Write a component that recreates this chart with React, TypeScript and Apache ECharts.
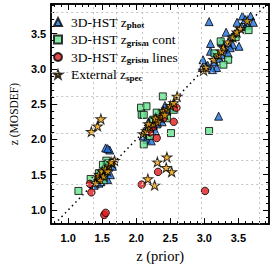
import React, { useEffect, useRef } from "react";
import * as echarts from "echarts";

// ---- data (z_prior, z_MOSDEF) ----
const zPhot: [number, number][] = [
  [1.40, 1.42], [1.45, 1.38], [1.50, 1.47], [1.58, 1.43], [1.62, 1.50], [1.43, 1.48],
  [1.55, 1.56], [1.38, 1.35], [1.55, 1.88], [1.61, 1.85], [1.58, 1.87], [1.48, 1.40], [1.65, 1.62],
  [2.10, 2.05], [2.15, 2.00], [2.20, 2.15], [2.25, 2.20], [2.30, 2.22], [2.35, 2.30], [2.40, 2.38],
  [2.45, 2.40], [2.50, 2.45], [2.18, 2.25], [2.28, 2.12], [2.38, 2.25], [2.12, 2.12], [2.55, 2.50],
  [2.22, 1.98], [2.42, 2.48], [2.32, 2.35],
  [3.21, 2.33], [3.07, 3.67],
  [2.98, 3.13], [3.09, 3.25], [3.09, 3.36], [3.25, 3.39], [3.32, 3.52], [3.48, 3.66], [3.56, 3.75],
  [3.68, 3.75], [3.72, 3.66], [3.18, 3.02], [3.42, 3.34], [3.51, 3.32], [3.05, 3.05], [3.15, 3.10],
  [3.22, 3.15], [3.30, 3.28], [3.38, 3.30], [3.45, 3.50], [3.55, 3.60], [3.60, 3.70], [3.40, 3.45],
  [3.12, 2.99], [3.35, 3.22], [2.97, 3.02], [3.62, 3.62], [3.26, 3.20],
];
const zGrismCont: [number, number][] = [
  [1.15, 1.27], [1.33, 1.44], [1.52, 1.42], [1.56, 1.70], [1.51, 1.64], [1.58, 1.66], [1.45, 1.52],
  [2.07, 2.45], [2.08, 2.35], [2.15, 2.47], [2.11, 2.35], [2.39, 2.61], [2.51, 2.09], [2.11, 1.93],
  [2.20, 2.05], [2.30, 2.38], [2.45, 2.30], [2.55, 2.42], [2.25, 2.28],
  [3.07, 2.12],
  [3.65, 3.55], [3.24, 3.39], [3.35, 3.13], [3.28, 3.06], [3.46, 3.45], [3.15, 3.22],
];
const zGrismLines: [number, number][] = [
  [1.53, 0.93], [1.55, 0.96], [1.34, 1.25], [1.32, 1.37], [1.45, 1.45],
  [2.30, 2.02], [2.32, 1.54], [2.08, 1.36], [3.01, 1.27], [2.59, 2.45], [2.55, 2.25],
  [2.25, 2.18], [2.40, 2.30], [2.20, 2.10],
];
const zSpec: [number, number][] = [
  [1.42, 1.45], [1.45, 1.50], [1.50, 1.55], [1.55, 1.58], [1.60, 1.62], [1.65, 1.66], [1.68, 1.70],
  [1.52, 1.48], [1.47, 1.42], [1.40, 1.38], [1.58, 1.55], [1.63, 1.68],
  [1.34, 2.11], [1.43, 2.19], [1.48, 2.29],
  [2.10, 2.08], [2.15, 2.12], [2.20, 2.18], [2.25, 2.22], [2.30, 2.28], [2.35, 2.33], [2.40, 2.40],
  [2.45, 2.43], [2.50, 2.48], [2.55, 2.52], [2.60, 2.61], [2.32, 2.25], [2.42, 2.35], [2.18, 2.22],
  [2.28, 2.30],
  [2.31, 1.68], [2.45, 1.75], [2.44, 1.60], [2.52, 1.54], [2.17, 1.44], [2.27, 1.35],
  [2.99, 2.98], [3.02, 3.02], [3.14, 3.13], [3.21, 3.20], [3.28, 3.30], [3.35, 3.38], [3.42, 3.45],
  [3.53, 3.57], [3.63, 3.68], [3.25, 3.25], [3.48, 3.52],
];
// MOSDEF redshift window boundaries (dashed guides)
const windowEdges = [1.37, 1.70, 2.09, 2.61, 2.95, 3.80];
const majorTicks = [1.0, 1.5, 2.0, 2.5, 3.0, 3.5];
const xRange = [0.75, 3.95];
const yRange = [0.8, 3.92];

const SERIF = '"Liberation Serif", "DejaVu Serif", serif';
const SANS = '"Liberation Sans", "DejaVu Sans", sans-serif';
const STAR =
  "path://M50,0 L61.2,34.5 L97.6,34.5 L68.2,55.9 L79.4,90.5 L50,69.1 L20.6,90.5 L31.8,55.9 L2.4,34.5 L38.8,34.5 Z";

function minorTicks(lo: number, hi: number): number[] {
  const out: number[] = [];
  for (let k = Math.ceil(lo * 10); k <= Math.floor(hi * 10); k++) {
    if (k % 5 !== 0) out.push(k / 10);
  }
  return out;
}

function makeAxis(
  dim: "x" | "y",
  position: string,
  major: boolean,
  showLabel: boolean,
  range: number[],
  name?: string
) {
  const ax: any = {
    type: "value",
    position,
    min: range[0],
    max: range[1],
    axisLine: { show: true, onZero: false, lineStyle: { color: "#000", width: 1.5 } },
    axisTick: {
      show: true,
      inside: true,
      length: major ? 6 : 3,
      customValues: major ? majorTicks : minorTicks(range[0], range[1]),
      lineStyle: { color: "#000", width: 1 },
    },
    axisLabel: {
      show: showLabel,
      customValues: majorTicks,
      formatter: (v: number) => v.toFixed(1),
      fontFamily: SANS,
      fontWeight: "bold",
      fontSize: 11,
      color: "#000",
      margin: dim === "x" ? 8 : 5,
    },
    splitLine: { show: false },
  };
  if (name) {
    ax.name = name;
    ax.nameLocation = "middle";
    ax.nameGap = dim === "x" ? 22 : 27;
    ax.nameTextStyle = { fontFamily: SERIF, fontSize: dim === "x" ? 14.5 : 11.5, color: "#000" };
  }
  return ax;
}

const legendLabels: Record<string, string> = {
  phot: "{a|3D-HST z}{s|phot}",
  cont: "{a|3D-HST z}{s|grism}{a| cont}",
  lines: "{a|3D-HST z}{s|grism}{a| lines}",
  spec: "{a|External z}{s|spec}",
};

export default function App() {
  const ref = useRef<HTMLDivElement>(null);
  useEffect(() => {
    if (!ref.current) return;
    const chart = echarts.init(ref.current, undefined, { renderer: "svg" });
    const border = { borderColor: "#000", borderWidth: 1 };
    const guideLines: any[] = [];
    windowEdges.forEach((v) => {
      guideLines.push({ xAxis: v });
      guideLines.push({ yAxis: v });
    });
    chart.setOption({
      animation: false,
      backgroundColor: "#fff",
      grid: { left: 42, top: 4, width: 227, height: 227 },
      xAxis: [
        makeAxis("x", "bottom", true, true, xRange, "z (prior)"),
        makeAxis("x", "bottom", false, false, xRange),
        makeAxis("x", "top", true, false, xRange),
        makeAxis("x", "top", false, false, xRange),
      ],
      yAxis: [
        makeAxis("y", "left", true, true, yRange, "z (MOSDEF)"),
        makeAxis("y", "left", false, false, yRange),
        makeAxis("y", "right", true, false, yRange),
        makeAxis("y", "right", false, false, yRange),
      ],
      legend: {
        data: [
          { name: "phot", icon: "triangle" },
          { name: "cont", icon: "rect" },
          { name: "lines", icon: "circle" },
          { name: "spec", icon: STAR },
        ],
        orient: "vertical",
        left: 48,
        top: 10,
        itemWidth: 8,
        itemHeight: 8,
        itemGap: 3,
        selectedMode: false,
        formatter: (n: string) => legendLabels[n],
        textStyle: {
          padding: [0, 0, 0, 4],
          rich: {
            a: { fontFamily: SERIF, fontSize: 13.5, color: "#000", lineHeight: 15, verticalAlign: "middle" },
            s: { fontFamily: SERIF, fontSize: 9, fontWeight: "bold", color: "#000", lineHeight: 9, verticalAlign: "bottom" },
          },
        },
      },
      series: [
        {
          type: "scatter",
          name: "guides",
          data: [],
          silent: true,
          markLine: {
            silent: true,
            symbol: "none",
            label: { show: false },
            lineStyle: { color: "#c4c4c4", type: [2, 3], width: 1 },
            data: [
              ...guideLines,
              [
                { coord: [0.8, 0.8], lineStyle: { color: "#000", type: [1.5, 3.5], width: 1.5 } },
                { coord: [3.92, 3.92] },
              ],
            ],
          },
        },
        {
          type: "scatter",
          name: "phot",
          data: zPhot,
          symbol: "triangle",
          symbolSize: 8,
          itemStyle: { color: "#1e6fdc", ...border },
        },
        {
          type: "scatter",
          name: "cont",
          data: zGrismCont,
          symbol: "rect",
          symbolSize: 7,
          itemStyle: { color: "#63e58c", ...border },
        },
        {
          type: "scatter",
          name: "lines",
          data: zGrismLines,
          symbol: "circle",
          symbolSize: 7.5,
          itemStyle: { color: "#e01b1b", ...border },
        },
        {
          type: "scatter",
          name: "spec",
          data: zSpec,
          symbol: STAR,
          symbolSize: [10, 9.5],
          itemStyle: { color: "#f2a20c", ...border },
        },
      ],
    });
    return () => chart.dispose();
  }, []);
  return (
    <div
      ref={ref}
      style={{ position: "absolute", left: 0, top: 0, width: 274, height: 268, background: "#fff" }}
    />
  );
}
